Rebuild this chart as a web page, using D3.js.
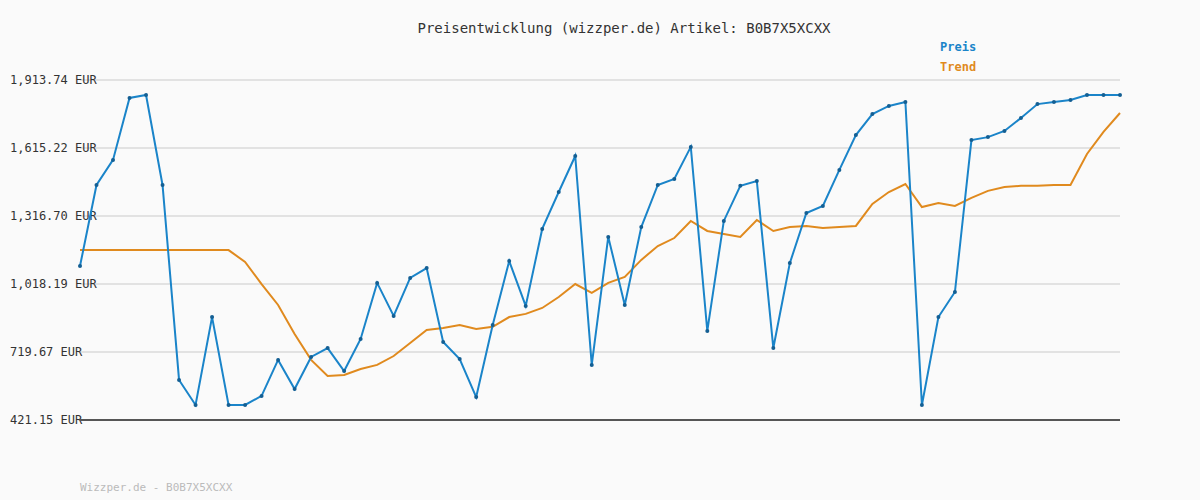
<!DOCTYPE html>
<html>
<head>
<meta charset="utf-8">
<script src="https://d3js.org/d3.v7.min.js"></script>
<style>
  body { margin: 0; background: #fafafa; }
  text { font-family: "DejaVu Sans Mono", monospace; }
</style>
</head>
<body>
<script>
// price per step (EUR)
var preis = [1097, 1453, 1563, 1835, 1848, 1453, 597, 487, 873, 487,
  487, 527, 685, 557, 698, 737, 636, 777, 1023, 878,
  1045, 1088, 764, 689, 522, 838, 1119, 922, 1260, 1422,
  1580, 663, 1225, 926, 1268, 1453, 1479, 1620, 812, 1295,
  1449, 1470, 737, 1110, 1330, 1361, 1519, 1672, 1764, 1800,
  1817, 487, 873, 983, 1650, 1663, 1690, 1747, 1808, 1817,
  1826, 1848, 1848, 1848];
var trend = [1167, 1167, 1167, 1167, 1167, 1167, 1167, 1167, 1167, 1167,
  1115, 1018, 926, 799, 685, 614, 619, 645, 663, 702,
  759, 816, 825, 838, 821, 830, 873, 887, 913, 961,
  1018, 979, 1023, 1049, 1124, 1185, 1220, 1295, 1251, 1238,
  1225, 1299, 1251, 1268, 1273, 1264, 1268, 1273, 1370, 1422,
  1457, 1356, 1374, 1361, 1396, 1427, 1444, 1449, 1449, 1453,
  1453, 1589, 1686, 1769];
var yTicks = [421.15, 719.67, 1018.19, 1316.70, 1615.22, 1913.74];

var svg = d3.select("body").append("svg")
    .attr("width", 1200)
    .attr("height", 500);

var x = d3.scaleLinear().domain([0, preis.length - 1]).range([80, 1120]);
var y = d3.scaleLinear().domain([421.15, 1913.74]).range([420, 80]);
var fmt = d3.format(",.2f");

// grid
svg.selectAll("line.grid").data(yTicks).enter().append("line")
    .attr("x1", 80).attr("x2", 1120)
    .attr("y1", d => y(d)).attr("y2", d => y(d))
    .attr("stroke", "#e2e2e2").attr("stroke-width", 2);

svg.selectAll("text.tick").data(yTicks).enter().append("text")
    .attr("x", 10).attr("y", d => y(d) + 4)
    .attr("font-size", 12).attr("fill", "#333")
    .text(d => fmt(d) + " EUR");

svg.append("line")
    .attr("x1", 80).attr("x2", 1120).attr("y1", 420).attr("y2", 420)
    .attr("stroke", "#555").attr("stroke-width", 2);

var line = d3.line().x((d, i) => x(i)).y(d => y(d));

svg.append("path").datum(trend)
    .attr("d", line).attr("fill", "none")
    .attr("stroke", "#e08a1e").attr("stroke-width", 2);

svg.append("path").datum(preis)
    .attr("d", line).attr("fill", "none")
    .attr("stroke", "#1a84c9").attr("stroke-width", 2);

svg.selectAll("circle.pt").data(preis).enter().append("circle")
    .attr("cx", (d, i) => x(i)).attr("cy", d => y(d))
    .attr("r", 2).attr("fill", "#145f93");

svg.append("text")
    .attr("x", 624).attr("y", 33).attr("text-anchor", "middle")
    .attr("font-size", 14).attr("fill", "#333")
    .text("Preisentwicklung (wizzper.de) Artikel: B0B7X5XCXX");

svg.append("text").attr("x", 940).attr("y", 51)
    .attr("font-size", 12).attr("font-weight", "bold").attr("fill", "#1a84c9").text("Preis");
svg.append("text").attr("x", 940).attr("y", 71)
    .attr("font-size", 12).attr("font-weight", "bold").attr("fill", "#e08a1e").text("Trend");

svg.append("text").attr("x", 80).attr("y", 491)
    .attr("font-size", 11).attr("fill", "#bbb").text("Wizzper.de - B0B7X5XCXX");
</script>
</body>
</html>
